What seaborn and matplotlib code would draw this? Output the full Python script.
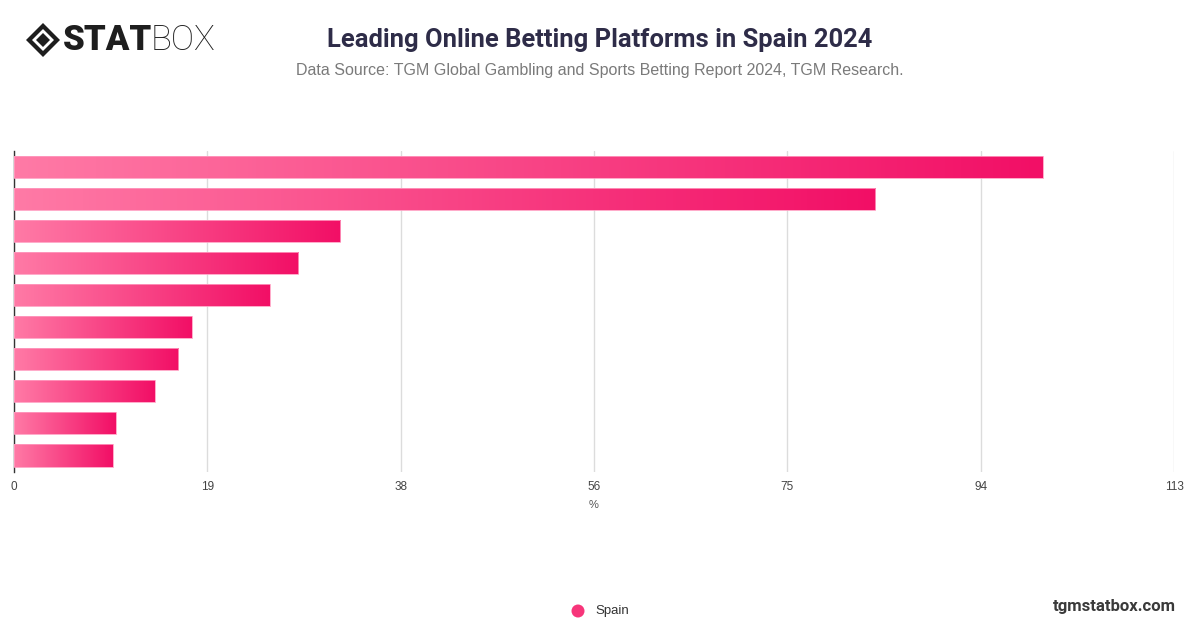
import numpy as np
import pandas as pd
import matplotlib
matplotlib.use("Agg")
import matplotlib.pyplot as plt
from matplotlib.colors import LinearSegmentedColormap
from matplotlib.patches import Polygon, Ellipse
import seaborn as sns

# ---- data ----
platforms = ["Platform 1", "Platform 2", "Platform 3", "Platform 4", "Platform 5",
             "Platform 6", "Platform 7", "Platform 8", "Platform 9", "Platform 10"]
shares = [100.2, 83.9, 31.8, 27.7, 24.9, 17.3, 16.0, 13.7, 9.9, 9.6]
series_name = "Spain"
x_max = 113
tick_labels = ["0", "19", "38", "56", "75", "94", "113"]

title = "Leading Online Betting Platforms in Spain 2024"
subtitle = "Data Source: TGM Global Gambling and Sports Betting Report 2024, TGM Research."

df = pd.DataFrame({"platform": platforms, "share": shares})

sns.set_theme(style="white")
plt.rcParams["font.family"] = ["Roboto", "DejaVu Sans"]

fig = plt.figure(figsize=(12, 6.28), dpi=100)
ax = fig.add_axes([14 / 1200, 1 - 471.5 / 628, 1160 / 1200, 320.5 / 628])

sns.barplot(data=df, y="platform", x="share", orient="h", color="#f5186a",
            width=0.69, ax=ax, zorder=3)

# gradient fill for each bar
cmap = LinearSegmentedColormap.from_list("pinkgrad", ["#ff7aa6", "#f20f66"])
grad = np.linspace(0, 1, 256).reshape(1, -1)
for p in ax.patches:
    x0, y0 = p.get_x(), p.get_y()
    w, h = p.get_width(), p.get_height()
    p.set_facecolor("none")
    p.set_edgecolor("#ff9cc0")
    p.set_linewidth(0.6)
    im = ax.imshow(grad, cmap=cmap, aspect="auto",
                   extent=[x0, x0 + w, y0 + h, y0], zorder=2, interpolation="bicubic")
    im.set_clip_path(p)

ax.set_ylim(len(platforms) - 0.5, -0.5)
ax.set_xlim(0, x_max)

ticks = [x_max * k / 6 for k in range(7)]
ax.set_xticks(ticks)
ax.set_xticklabels(tick_labels, fontsize=8.5, color="#444444",
                   family=["Liberation Sans", "DejaVu Sans"])
ax.tick_params(axis="x", length=0, pad=7)
ax.set_yticks([])
ax.set_ylabel("")
ax.set_xlabel("%", fontsize=8, color="#555555", labelpad=5,
              family=["Liberation Sans", "DejaVu Sans"])
ax.grid(axis="x", color="#dcdcdc", linewidth=1, zorder=0)
ax.set_axisbelow(True)
for s in ["top", "right", "bottom"]:
    ax.spines[s].set_visible(False)
ax.spines["left"].set_color("#333333")
ax.spines["left"].set_linewidth(1)
ax.spines["left"].set_zorder(1)

# titles
fig.text(0.5, 1 - 40 / 628, title, ha="center", va="center", fontsize=18.4,
         fontweight="bold", color="#2e2c48")
fig.text(0.5, 1 - 71 / 628, subtitle, ha="center", va="center", fontsize=11.5,
         color="#7a7a7a", family=["Liberation Sans", "DejaVu Sans"])

# logo
lx, ly = 43 / 1200, 1 - 40 / 628
for (r, c) in [(17, "#1e1e1e"), (11, "white"), (7, "#1e1e1e")]:
    dw, dh = r / 1200, r / 628
    fig.patches.append(Polygon([[lx - dw, ly], [lx, ly + dh], [lx + dw, ly], [lx, ly - dh]],
                               closed=True, transform=fig.transFigure, facecolor=c,
                               edgecolor="none"))
fig.text(63 / 1200, ly, "STAT", ha="left", va="center", fontsize=25,
         fontweight="black", color="#1e1e1e", family=["Roboto", "DejaVu Sans"])
fig.text(151 / 1200, ly, "BOX", ha="left", va="center", fontsize=25,
         fontweight="light", color="#1e1e1e", family=["Roboto", "DejaVu Sans"])

# legend
fig.patches.append(Ellipse((578 / 1200, 1 - 611 / 628), 13 / 1200, 13 / 628,
                           transform=fig.transFigure,
                           facecolor="#f7357a", edgecolor="none"))
fig.text(595 / 1200, 1 - 611 / 628, series_name, ha="left", va="center", fontsize=9.5,
         color="#333333", family=["Liberation Sans", "DejaVu Sans"])

fig.text(1176 / 1200, 1 - 606 / 628, "tgmstatbox.com", ha="right", va="center",
         fontsize=12, fontweight="bold", color="#3a3a3a")

fig.savefig("out.png", dpi=100, facecolor="white")
